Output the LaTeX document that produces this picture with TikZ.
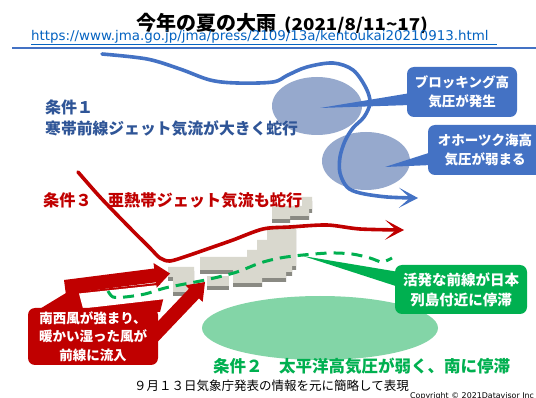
\documentclass[tikz,border=0pt]{standalone}
\usepackage{fontspec}
\setmainfont{Noto Sans CJK JP}
\newfontfamily\latinfont{DejaVu Sans}
\newfontfamily\widefont{Noto Sans CJK JP}[FakeStretch=1.15]
\usetikzlibrary{arrows.meta,calc}

\definecolor{jetblue}{RGB}{68,114,196}
\definecolor{boxblue}{RGB}{68,114,196}
\definecolor{highblue}{RGB}{150,169,205}
\definecolor{textblue}{RGB}{47,85,151}
\definecolor{linkblue}{RGB}{5,99,193}
\definecolor{jetred}{RGB}{192,0,0}
\definecolor{frontgreen}{RGB}{0,176,80}
\definecolor{highgreen}{RGB}{131,213,167}
\definecolor{landface}{RGB}{217,216,206}
\definecolor{landshade}{RGB}{138,138,131}

\newcommand\fsz[2]{\fontsize{#1}{#2}\selectfont}
% one island block: darker copy shifted down, lighter face on top
\newcommand\landblock[1]{\fill[landshade,shift={(0,4)}] #1; \fill[landface] #1;}

\begin{document}
\begin{tikzpicture}[x=1pt,y=-1pt,
  label/.style={inner sep=0pt,anchor=west},
  callout/.style={rounded corners=7pt,inner sep=0pt,align=center,text=white,
                  font=\fsz{13.5}{18.5}\bfseries},
  jetline/.style={line width=3.6pt,line cap=round,line join=round,
                  -{Stealth[length=19pt,width=20pt,inset=11pt]}},
  frontline/.style={frontgreen,line width=3pt,dash pattern=on 11pt off 7pt},
]
\useasboundingbox (0,0) rectangle (536,398);
\fill[white] (0,0) rectangle (536,398);

% heading, source link and rule
\node[inner sep=0pt,anchor=base west] (title) at (136,31)
  {\fsz{20}{20}\bfseries 今年の夏の大雨};
\node[inner sep=0pt,anchor=base west] (period) at (284,31)
  {\widefont\fsz{16.3}{16}\bfseries (2021/8/11\string~17)};
\node[inner sep=0pt,anchor=base west,text=linkblue] (url) at (31,41)
  {\latinfont\fsz{13.4}{14}https://www.jma.go.jp/jma/press/2109/13a/kentoukai20210913.html};
\coordinate (ulA) at (31,44.2);
\coordinate (ulB) at (497,44.2);
\draw[linkblue,line width=0.8pt] (ulA) -- (ulB);
\coordinate (ruleA) at (12,48.5);
\coordinate (ruleB) at (536,48.5);
\draw[jetblue,line width=2pt] (ruleA) -- (ruleB);

% blocking high and Okhotsk high
\fill[highblue] (317,106) ellipse [x radius=45, y radius=29];
\fill[highblue] (366,161) ellipse [x radius=44, y radius=29];

% polar front jet stream
\draw[jetblue,jetline] plot[smooth,tension=0.55] coordinates {
  (102,54) (147,59) (180,69) (210,80) (237,83) (273,82) (288,75) (307,67)
  (333,63) (353,70) (366,88) (370,103) (364,117) (353,128) (345,141)
  (340,157) (340,173) (347,187) (360,193) (387,197) (418,198)};

% blue callouts
\node[callout,fill=boxblue,minimum width=110pt,minimum height=50pt] (blocking) at (462,92)
  {ブロッキング高\\気圧が発生};
\coordinate (blockingTip) at (320,108);
\fill[boxblue] ($(blocking.west)+(4,1)$) -- (blockingTip) -- ($(blocking.west)+(4,13)$) -- cycle;
\node[callout,fill=boxblue,minimum width=114pt,minimum height=50pt] (okhotsk) at (485,150)
  {オホーツク海高\\気圧が弱まる};
\coordinate (okhotskTip) at (385,167);
\fill[boxblue] ($(okhotsk.west)+(4,2)$) -- (okhotskTip) -- ($(okhotsk.west)+(4,15)$) -- cycle;

% condition 1
\node[label,text=textblue] (cond1a) at (45,107) {\fsz{16}{16}\bfseries 条件１};
\node[label,text=textblue] (cond1b) at (45,128) {\fsz{15.8}{16}\bfseries 寒帯前線ジェット気流が大きく蛇行};

% Pacific high
\fill[highgreen] (320,328) ellipse [x radius=118, y radius=32];

% Japanese islands
\landblock{(272,206) -- (302,206) -- (302,197) -- (312,197) -- (312,209) -- (309,209)
  -- (309,216) -- (290,216) -- (290,219) -- (272,219) -- cycle}
\landblock{(267,226) -- (296,226) -- (296,266) -- (292,266) -- (292,272) -- (286,272)
  -- (286,278) -- (262,278) -- (262,283) -- (233,283) -- (233,270) -- (200,270)
  -- (200,257) -- (247,257) -- (247,250) -- (257,250) -- (257,240) -- (267,240) -- cycle}
\landblock{(207,276) -- (229,276) -- (229,286) -- (207,286) -- cycle}
\landblock{(168,267) -- (194,267) -- (194,292) -- (173,292) -- (173,277) -- (168,277) -- cycle}

% subtropical jet stream
\draw[jetred,jetline] plot[smooth,tension=0.5] coordinates {
  (78,172) (100,197) (127,225) (150,248) (160,258) (170,261) (187,256)
  (213,247) (233,240) (263,229) (290,227) (327,225) (360,229) (404,230)};
\node[label,text=jetred] (cond3) at (43,200) {\fsz{16.2}{16}\bfseries 条件３　亜熱帯ジェット気流も蛇行};

% south-westerly inflow
\fill[jetred] (38,310) -- (66,293) -- (157,283) -- (166,288) -- (160,312) -- cycle;
\fill[white] (79,293.5) -- (168,284) -- (170,298.5) -- (83,308.5) -- cycle;
\fill[jetred] (64,280) -- (154.2,268.5) -- (153.5,263) -- (170,273.5) -- (156.7,287.8)
  -- (156,282.3) -- (65.8,293.8) -- cycle;
\fill[jetred] (140.6,339.4) -- (188.9,288.8) -- (185.3,285.3) -- (205,282) -- (202.7,301.9)
  -- (199,298.4) -- (150.7,349.1) -- cycle;
\node[callout,fill=jetred,minimum width=130pt,minimum height=57pt] (inflow) at (93,336.5)
  {南西風が強まり、\\暖かい湿った風が\\前線に流入};

% stationary front
\draw[frontline] plot[smooth,tension=0.5] coordinates {
  (108,291) (113,297) (125,297) (145,294) (165,288) (190,283) (210,279)
  (237,272) (260,263) (280,258) (303,255) (330,253) (352,254) (370,258)
  (382,262) (392,258)};
\node[callout,fill=frontgreen,minimum width=132pt,minimum height=49pt,
  font=\fsz{14.5}{20}\bfseries] (front) at (461,289.5)
  {活発な前線が日本\\列島付近に停滞};
\coordinate (frontTip) at (303,256);
\fill[frontgreen] ($(front.west)+(4,-17.5)$) -- (frontTip) -- ($(front.west)+(4,-2.5)$) -- cycle;

% condition 2 and notes
\node[label,text=frontgreen] (cond2) at (213,366) {\fsz{16.5}{16}\bfseries 条件２　太平洋高気圧が弱く、南に停滞};
\node[label] (note) at (134,386) {\fsz{12.5}{13}９月１３日気象庁発表の情報を元に簡略して表現};
\node[inner sep=0pt,anchor=north west] (copy) at (410,392.5) {\latinfont\fsz{7.9}{8}Copyright © 2021Datavisor Inc};
\end{tikzpicture}
\end{document}
